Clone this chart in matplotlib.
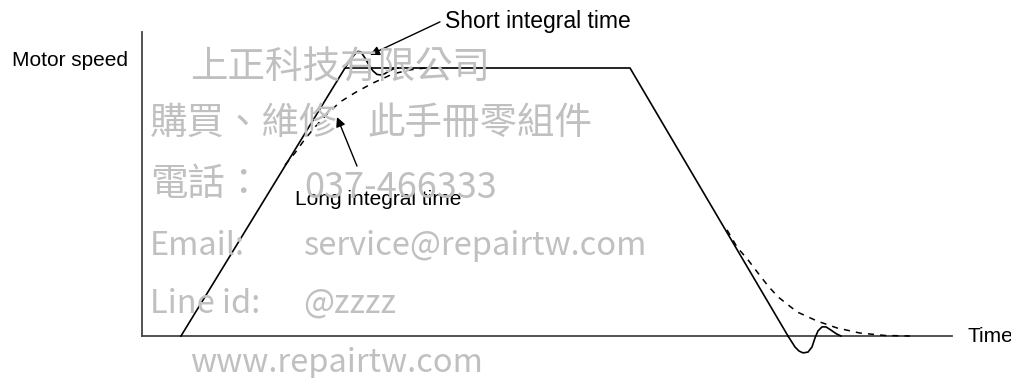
import matplotlib.pyplot as plt

# time runs right from the speed axis, speed is 0 on the time axis and 100 at full speed
ramp_t = [3.9, 20.3, 48.8, 64.6]
ramp_s = [0, 100, 100, 0]

# short integral time: overshoot at the top, undershoot at the bottom
short_up_t = [20.3, 20.8, 21.3, 21.6, 21.9, 22.3, 22.7, 23.1, 23.5, 23.9, 24.3, 24.7, 25.1, 25.6]
short_up_s = [100.0, 103.0, 105.2, 106.2, 106.0, 103.7, 101.1, 98.9, 97.6, 97.4, 97.9, 98.9, 99.6, 100.0]
short_dn_t = [64.6, 65.3, 65.7, 66.1, 66.6, 67.0, 67.3, 67.6, 68.0, 68.4, 68.9, 69.4, 69.9]
short_dn_s = [0, -4.1, -5.6, -6.3, -6.0, -4.1, -0.7, 1.9, 3.4, 3.4, 2.2, 0.9, 0]

# long integral time: slow approach
long_up_t = [14.3, 15.3, 16.3, 17.4, 18.5, 19.8, 21.4, 23.1, 25.1, 26.8, 28.3]
long_up_s = [63.8, 68.3, 73.5, 78.4, 82.8, 87.3, 91.0, 94.4, 97.8, 99.3, 100.0]
long_dn_t = [58.5, 59.5, 60.6, 61.6, 62.6, 63.6, 65.5, 67.5, 69.5, 71.8, 74.3, 76.8]
long_dn_s = [39.6, 33.2, 28.4, 23.5, 18.7, 14.6, 9.0, 5.6, 3.0, 1.1, 0.2, 0]

axis_t_end = 81.0
axis_s_end = 113.4

# watermark: text, left px, y px, vertical anchor, size
watermark = [
    ("上正科技有限公司", 190, 68, "center", 27),
    ("購買、維修", 150, 123, "center", 27),
    ("此手冊零組件", 367, 123, "center", 27),
    ("電話：", 150, 184, "center", 27),
    ("037-466333", 304, 198, "baseline", 26),
    ("Email:", 150, 255, "baseline", 23.5),
    ("service@repairtw.com", 304, 255, "baseline", 23.5),
    ("Line id:", 150, 313, "baseline", 23.5),
    ("@zzzz", 303, 313, "baseline", 23.5),
    ("www.repairtw.com", 190, 372, "baseline", 23.5),
]

W, H = 1011, 378
fig = plt.figure(figsize=(W / 100, H / 100), dpi=100)
ax = fig.add_axes([0, 0, 1, 1])
ax.set_xlim(-14.2, 86.9)
ax.set_ylim(-15.67, 125.37)
ax.axis('off')

for txt, px, py, va, fs in watermark:
    fig.text(px / W, 1 - py / H, txt, color='#c0c0c0', fontsize=fs,
             family=['Noto Sans CJK TC', 'DejaVu Sans'], ha='left', va=va, zorder=0)

# axes of the diagram
ax.plot([0, 0], [0, axis_s_end], color='#444444', lw=1.3)
ax.plot([0, axis_t_end], [0, 0], color='#444444', lw=1.3)

ax.plot(ramp_t, ramp_s, color='black', lw=1.2)
ax.plot(short_up_t, short_up_s, color='black', lw=1.2)
ax.plot(short_dn_t, short_dn_s, color='black', lw=1.2)
ax.plot(long_up_t, long_up_s, color='black', lw=1.1, dashes=(4, 4))
ax.plot(long_dn_t, long_dn_s, color='black', lw=1.1, dashes=(4, 4))

font = dict(family='Liberation Sans', color='black')
ax.text(-13.0, 100.7, 'Motor speed', fontsize=15, ha='left', va='baseline', **font)
ax.text(82.5, 0, 'Time', fontsize=15, ha='left', va='center', **font)

arrow = dict(arrowstyle='-|>', color='black', lw=1.0, mutation_scale=14,
             shrinkA=0, shrinkB=0)
ax.annotate('', xy=(22.8, 104.9), xytext=(29.8, 117.2), arrowprops=arrow)
ax.text(30.3, 117.5, 'Short integral time', fontsize=16.5, ha='left', va='center', **font)
ax.annotate('', xy=(19.5, 81.7), xytext=(21.5, 63.4), arrowprops=arrow)
ax.text(15.3, 48.9, 'Long integral time', fontsize=15, ha='left', va='baseline', **font)

fig.savefig('out.png', dpi=100)
